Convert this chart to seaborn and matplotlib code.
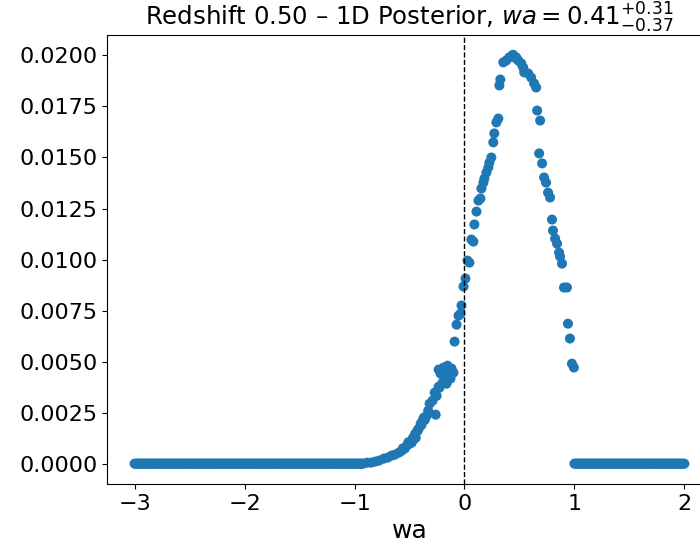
import numpy as np
import pandas as pd
import matplotlib
matplotlib.use("Agg")
import matplotlib.pyplot as plt
import seaborn as sns

# Zero-probability tails (sampling grid of wa, posterior = 0)
wa_left_zero = np.round(np.arange(-3.00, -0.925, 0.01), 3)
wa_right_zero = np.round(np.arange(1.00, 2.0001, 0.01), 3)
post_left_zero = [0.0] * len(wa_left_zero)
post_right_zero = [0.0] * len(wa_right_zero)

# Non-zero part of the posterior
wa_mid = [-0.923, -0.887, -0.851, -0.814, -0.778, -0.733, -0.697, -0.661, -0.633,
          -0.597, -0.570, -0.543, -0.525, -0.498, -0.480, -0.462, -0.443, -0.425,
          -0.416, -0.398, -0.380, -0.371, -0.344, -0.317, -0.290, -0.262, -0.271,
          -0.253, -0.235, -0.226, -0.235, -0.217, -0.199, -0.190, -0.181, -0.163,
          -0.154, -0.145, -0.127, -0.118, -0.100, -0.090, -0.072, -0.054, -0.036,
          -0.027, -0.009, 0.009, 0.027, 0.045, 0.063, 0.081, 0.090, 0.109, 0.127,
          0.145, 0.154, 0.172, 0.181, 0.199, 0.217, 0.226, 0.244, 0.262, 0.271,
          0.290, 0.308, 0.317, 0.326, 0.353, 0.380, 0.407, 0.434, 0.443, 0.452,
          0.471, 0.489, 0.516, 0.534, 0.543, 0.579, 0.606, 0.633, 0.652, 0.661,
          0.688, 0.679, 0.706, 0.724, 0.742, 0.760, 0.778, 0.796, 0.805, 0.824,
          0.842, 0.860, 0.869, 0.887, 0.905, 0.932, 0.941, 0.959, 0.977, 0.995,
          -0.560, -0.510, -0.470, -0.450, -0.430, -0.390, -0.360, -0.330]
post_mid = [0.00000, 0.00005, 0.00005, 0.00010, 0.00015, 0.00025, 0.00030, 0.00040, 0.00044,
            0.00054, 0.00064, 0.00074, 0.00088, 0.00098, 0.00103, 0.00118, 0.00127, 0.00162,
            0.00172, 0.00196, 0.00211, 0.00225, 0.00235, 0.00294, 0.00309, 0.00240, 0.00348,
            0.00333, 0.00377, 0.00373, 0.00461, 0.00441, 0.00397, 0.00471, 0.00426, 0.00392,
            0.00480, 0.00441, 0.00417, 0.00466, 0.00446, 0.00598, 0.00681, 0.00725, 0.00735,
            0.00775, 0.00868, 0.00907, 0.00995, 0.00985, 0.01098, 0.01088, 0.01172, 0.01235, 0.01289,
            0.01299, 0.01348, 0.01377, 0.01397, 0.01426, 0.01451, 0.01475, 0.01500, 0.01574, 0.01618,
            0.01672, 0.01691, 0.01853, 0.01882, 0.01966, 0.01975, 0.01990, 0.02000, 0.02003, 0.01990,
            0.01990, 0.01975, 0.01961, 0.01941, 0.01917, 0.01912, 0.01892, 0.01863, 0.01843, 0.01730,
            0.01681, 0.01520, 0.01471, 0.01402, 0.01377, 0.01328, 0.01304, 0.01196, 0.01142, 0.01103,
            0.01078, 0.01034, 0.01015, 0.00980, 0.00863, 0.00863, 0.00686, 0.00613, 0.00490, 0.00471,
            0.00075, 0.00105, 0.00125, 0.00145, 0.00160, 0.00190, 0.00215, 0.00260]

title_text = r"Redshift 0.50 – 1D Posterior, $wa = 0.41^{+0.31}_{-0.37}$"
x_label = "wa"

df = pd.DataFrame({
    "wa": np.concatenate([wa_left_zero, wa_mid, wa_right_zero]),
    "posterior": np.concatenate([post_left_zero, post_mid, post_right_zero]),
})

plt.rcParams["font.family"] = ["DejaVu Sans"]
fig = plt.figure(figsize=(7.0, 5.47), dpi=100)
ax = fig.add_axes([0.153, 0.115, 0.864, 0.821])

sns.scatterplot(data=df, x="wa", y="posterior", ax=ax, color="#1f77b4",
                s=52, linewidth=0, edgecolor="none", legend=False)
ax.axvline(0, color="black", linestyle="--", linewidth=1)

ax.set_xlim(-3.25, 2.25)
ax.set_ylim(-0.001, 0.021)
ax.set_xticks([-3, -2, -1, 0, 1, 2])
ax.set_yticks([0.0, 0.0025, 0.005, 0.0075, 0.01, 0.0125, 0.015, 0.0175, 0.02])
ax.set_yticklabels(["0.0000", "0.0025", "0.0050", "0.0075", "0.0100",
                    "0.0125", "0.0150", "0.0175", "0.0200"])
ax.tick_params(labelsize=16)
ax.set_xlabel(x_label, fontsize=18)
ax.set_ylabel("")
ax.set_title(title_text, fontsize=17.6)

fig.savefig("out.png", dpi=100)
